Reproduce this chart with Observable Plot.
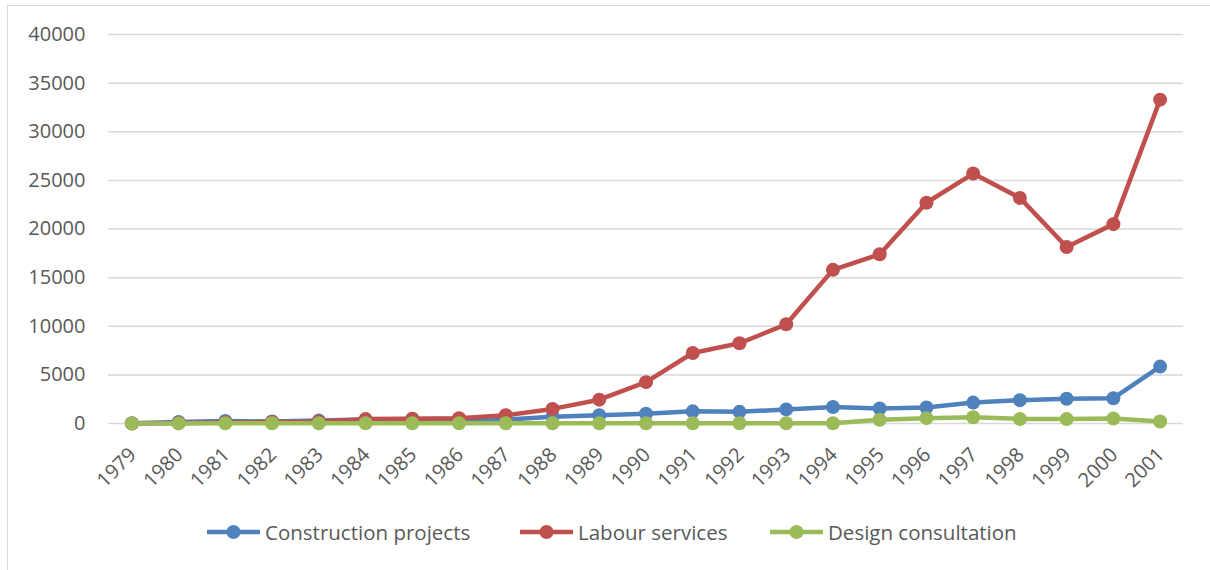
<!DOCTYPE html>
<html>
<head>
<meta charset="utf-8">
<script src="https://cdn.jsdelivr.net/npm/d3@7"></script>
<script src="https://cdn.jsdelivr.net/npm/@observablehq/plot@0.6"></script>
<style>
  html, body { margin: 0; padding: 0; background: #fff; overflow: hidden; }
  body { width: 1210px; height: 570px; position: relative; font-family: "Open Sans", sans-serif; }
  #frame { position: absolute; left: 7px; top: 5px; width: 1220px; height: 580px; border: 1.5px solid #d9d9d9; pointer-events: none; }
  #chart { position: absolute; left: 0; top: 0; }
  #legend { position: absolute; left: 0; top: 518px; width: 1210px; height: 28px; }
  .item { position: absolute; top: 0; display: flex; align-items: center; height: 28px; color: #595959; font-size: 20.5px; white-space: nowrap; }
  .item svg { margin-right: 5px; }
</style>
</head>
<body>
<div id="chart"></div>
<div id="legend"></div>
<div id="frame"></div>
<script>
const years = [1979,1980,1981,1982,1983,1984,1985,1986,1987,1988,1989,1990,1991,1992,1993,1994,1995,1996,1997,1998,1999,2000,2001];
const seriesNames = ["Construction projects", "Labour services", "Design consultation"];
const seriesColors = ["#4F81BD", "#C0504D", "#9BBB59"];
const construction = [30,150,250,200,300,400,450,450,400,700,850,1000,1250,1200,1450,1700,1550,1650,2150,2400,2550,2600,5850];
const labour = [0,50,100,150,200,450,500,550,850,1500,2450,4250,7250,8250,10200,15800,17400,22700,25700,23200,18150,20500,33300];
const design = [10,10,20,20,20,20,20,20,20,20,20,30,30,30,30,30,380,550,650,470,450,520,200];
const yTicks = [0,5000,10000,15000,20000,25000,30000,35000,40000];

const seriesValues = [construction, labour, design];
const data = [];
seriesNames.forEach((s, i) => years.forEach((yr, j) => data.push({series: s, year: String(yr), value: seriesValues[i][j]})));

const textColor = "#595959";
const marks = [
  Plot.gridY(yTicks, {stroke: "#d9d9d9", strokeOpacity: 1, strokeWidth: 1.5}),
  Plot.axisY(yTicks, {tickSize: 0, tickPadding: 23, fontSize: 20, fill: textColor, label: null, tickFormat: d => String(d)}),
  Plot.axisX({tickSize: 0, tickRotate: -45, tickPadding: 28, dx: 1, fontSize: 20, fill: textColor, label: null})
];
seriesNames.forEach(s => {
  const d = data.filter(r => r.series === s);
  marks.push(Plot.line(d, {x: "year", y: "value", stroke: "series", strokeWidth: 4.5, strokeLinejoin: "round"}));
  marks.push(Plot.dot(d, {x: "year", y: "value", fill: "series", r: 7, stroke: "none"}));
});

const chart = Plot.plot({
  width: 1210,
  height: 500,
  marginLeft: 108,
  marginRight: 27,
  marginTop: 34,
  marginBottom: 77,
  style: {fontFamily: "'Open Sans', sans-serif", background: "transparent"},
  x: {type: "point", domain: years.map(String), padding: 0.5, align: 0.5, round: false, label: null},
  y: {domain: [0, 40000], label: null},
  color: {domain: seriesNames, range: seriesColors},
  marks
});
document.getElementById("chart").appendChild(chart);

const legendLefts = [207, 520, 770];
const legend = document.getElementById("legend");
seriesNames.forEach((s, i) => {
  const item = document.createElement("div");
  item.className = "item";
  item.style.left = legendLefts[i] + "px";
  item.innerHTML = `<svg width="53" height="16"><line x1="0" y1="8" x2="53" y2="8" stroke="${seriesColors[i]}" stroke-width="4.5"/><circle cx="26.5" cy="8" r="7" fill="${seriesColors[i]}"/></svg><span>${s}</span>`;
  legend.appendChild(item);
});
</script>
</body>
</html>
